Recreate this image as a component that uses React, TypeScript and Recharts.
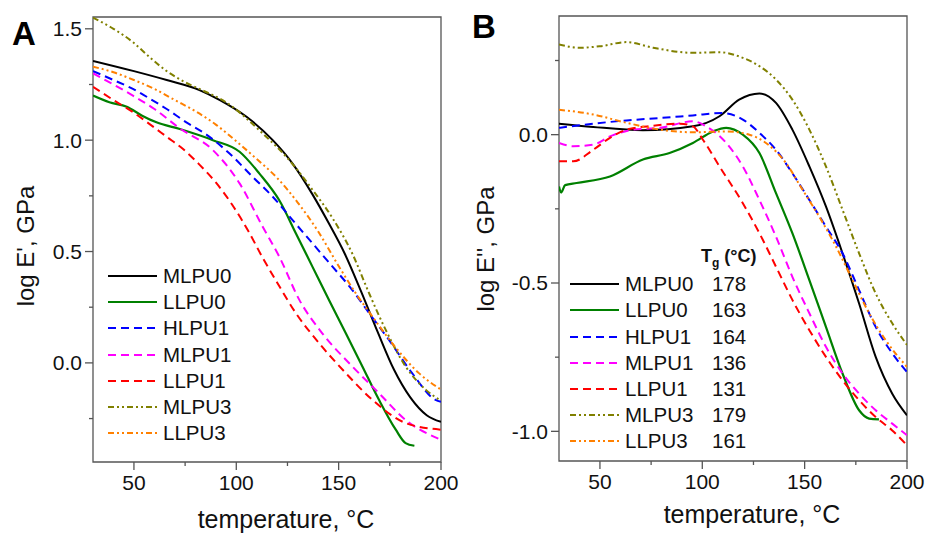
import React from "react";
import { LineChart, Line, XAxis, YAxis, Legend, ReferenceArea, Label } from "recharts";

type Pt = [number, number];

const FONT = '"Liberation Sans", Arial, sans-serif';
const FRAME = "#555";

// x axis: temperature, °C
const X_DOMAIN: [number, number] = [30, 200];
const X_TICKS = [50, 75, 100, 125, 150, 175, 200];

// panel A: log E', GPa
const A_DOMAIN: [number, number] = [-0.445, 1.553];
const A_TICKS = [-0.25, 0, 0.25, 0.5, 0.75, 1.0, 1.25, 1.5];

// panel B: log E'', GPa
const B_DOMAIN: [number, number] = [-1.1, 0.4];
const B_TICKS = [-1.0, -0.75, -0.5, -0.25, 0, 0.25];

const NAMES = ["MLPU0", "LLPU0", "HLPU1", "MLPU1", "LLPU1", "MLPU3", "LLPU3"];
const TG = [178, 163, 164, 136, 131, 179, 161];

// storage modulus (A)
const A_MLPU0: Pt[] = [[30, 1.356], [50, 1.31], [66, 1.27], [82, 1.225], [92, 1.18], [105, 1.105], [117.8, 1.0], [127.5, 0.895], [137, 0.76], [145, 0.63], [153, 0.49], [161, 0.32], [169, 0.14], [177, -0.03], [185, -0.155], [193, -0.235], [200, -0.265]];
const A_LLPU0: Pt[] = [[30, 1.2], [38, 1.17], [46.5, 1.15], [54, 1.11], [61, 1.08], [72.4, 1.05], [88.6, 1.0], [101.6, 0.948], [111.3, 0.85], [121, 0.73], [129.2, 0.58], [137.3, 0.43], [145.4, 0.28], [153.5, 0.133], [161.6, -0.016], [169.7, -0.166], [177.9, -0.3], [182.7, -0.36], [187, -0.372]];
const A_HLPU1: Pt[] = [[30, 1.31], [40, 1.27], [49.5, 1.23], [58, 1.185], [66, 1.14], [75.6, 1.08], [85.4, 1.025], [96.7, 0.94], [108, 0.835], [117.8, 0.746], [127.5, 0.641], [137.3, 0.536], [147, 0.432], [156.7, 0.327], [164.9, 0.223], [174.6, 0.103], [185.9, -0.046], [197.3, -0.166], [200, -0.175]];
const A_MLPU1: Pt[] = [[30, 1.3], [40, 1.25], [49.5, 1.2], [60, 1.14], [72.4, 1.053], [88.6, 0.955], [101.6, 0.806], [112.9, 0.611], [121, 0.477], [130.8, 0.283], [142, 0.133], [156.7, -0.016], [169.7, -0.136], [182.7, -0.256], [200, -0.345]];
const A_LLPU1: Pt[] = [[30, 1.24], [40, 1.18], [49.5, 1.126], [58, 1.07], [66, 1.015], [74, 0.96], [82, 0.89], [90, 0.81], [98, 0.71], [106, 0.59], [113, 0.47], [120, 0.36], [129.2, 0.222], [140.5, 0.088], [153.5, -0.046], [166.5, -0.166], [182.7, -0.27], [200, -0.3]];
const A_MLPU3: Pt[] = [[30, 1.55], [40, 1.5], [49.5, 1.44], [58, 1.37], [66, 1.31], [75, 1.26], [82, 1.23], [95, 1.17], [112.9, 1.03], [125.9, 0.91], [137.3, 0.776], [147, 0.65], [156.7, 0.49], [164.9, 0.312], [173, 0.148], [182.7, -0.016], [192.5, -0.12], [200, -0.17]];
const A_LLPU3: Pt[] = [[30, 1.33], [40, 1.305], [50, 1.27], [60, 1.23], [70, 1.18], [80, 1.13], [90, 1.07], [100, 0.995], [110, 0.915], [120, 0.83], [130, 0.72], [140, 0.59], [150, 0.435], [158.4, 0.312], [166.5, 0.208], [176.2, 0.088], [189.2, -0.046], [200, -0.12]];

// loss modulus (B)
const B_MLPU0: Pt[] = [[30, 0.037], [46.7, 0.026], [71, 0.015], [95.4, 0.028], [108.4, 0.062], [118, 0.118], [127.9, 0.139], [136, 0.107], [144, 0.017], [152.3, -0.107], [160.4, -0.242], [168.5, -0.4], [176.6, -0.569], [184.7, -0.749], [192.8, -0.873], [200, -0.946]];
const B_LLPU0: Pt[] = [[30, -0.175], [31, -0.195], [33, -0.17], [38.6, -0.163], [54.9, -0.141], [71, -0.084], [84, -0.062], [95.4, -0.028], [105.2, 0.011], [111.7, 0.023], [119.8, 0.0], [127.9, -0.062], [136, -0.197], [144, -0.332], [152.3, -0.49], [160.4, -0.648], [168.5, -0.805], [176.6, -0.929], [181.5, -0.957], [186.3, -0.96]];
const B_HLPU1: Pt[] = [[30, 0.023], [46.7, 0.037], [63, 0.048], [79.2, 0.056], [95.4, 0.065], [110, 0.073], [119.8, 0.051], [127.9, 0.006], [136, -0.051], [144, -0.13], [152.3, -0.22], [160.4, -0.31], [168.5, -0.4], [176.6, -0.524], [184.7, -0.648], [192.8, -0.737], [200, -0.8]];
const B_MLPU1: Pt[] = [[30, -0.028], [37, -0.039], [46.7, -0.034], [54.9, -0.006], [66.2, 0.017], [79.2, 0.023], [95.4, 0.045], [101.9, 0.028], [111.7, -0.028], [119.8, -0.107], [127.9, -0.22], [136, -0.344], [144, -0.479], [152.3, -0.602], [160.4, -0.715], [168.5, -0.805], [176.6, -0.873], [184.7, -0.929], [192.8, -0.974], [200, -1.013]];
const B_LLPU1: Pt[] = [[30, -0.09], [37, -0.09], [46.7, -0.051], [54.9, -0.011], [63, 0.017], [76, 0.03], [89, 0.037], [95.4, 0.028], [100.3, -0.017], [108.4, -0.107], [119.8, -0.231], [127.9, -0.332], [136, -0.445], [144, -0.557], [152.3, -0.659], [160.4, -0.749], [168.5, -0.828], [176.6, -0.895], [184.7, -0.952], [192.8, -0.997], [200, -1.047]];
const B_MLPU3: Pt[] = [[30, 0.304], [40.2, 0.293], [50, 0.298], [63, 0.312], [76, 0.293], [95.4, 0.276], [108.4, 0.278], [119.8, 0.259], [127.9, 0.231], [136, 0.186], [144, 0.118], [152.3, 0.017], [160.4, -0.107], [168.5, -0.253], [176.6, -0.4], [184.7, -0.535], [192.8, -0.636], [200, -0.709]];
const B_LLPU3: Pt[] = [[30, 0.084], [46.7, 0.068], [63, 0.04], [79.2, 0.017], [95.4, 0.008], [111.7, 0.011], [123, 0.0], [131.1, -0.028], [140.9, -0.096], [149, -0.186], [157.1, -0.276], [165.3, -0.377], [173.4, -0.49], [181.5, -0.602], [189.6, -0.693], [200, -0.783]];

const A_DATA = [A_MLPU0, A_LLPU0, A_HLPU1, A_MLPU1, A_LLPU1, A_MLPU3, A_LLPU3];
const B_DATA = [B_MLPU0, B_LLPU0, B_HLPU1, B_MLPU1, B_LLPU1, B_MLPU3, B_LLPU3];

const STYLES = [
  { color: "#000000", dash: undefined, width: 2 },
  { color: "#008000", dash: undefined, width: 2.2 },
  { color: "#0000ff", dash: "8 5", width: 2 },
  { color: "#ff00ff", dash: "8 5", width: 2 },
  { color: "#ff0000", dash: "8 5", width: 2 },
  { color: "#808000", dash: "6 3 2 3 2 3", width: 2 },
  { color: "#ff8000", dash: "6 3 2 3 2 3", width: 2 },
];

const toRows = (pts: Pt[]) => pts.map(([t, v]) => ({ t, v }));

const YTick = (props: any) => {
  const { x, y, payload } = props;
  const v = payload.value;
  const major = Math.abs(v * 2 - Math.round(v * 2)) < 1e-6;
  return (
    <g>
      <line x1={x - (major ? 8 : 4)} x2={x} y1={y} y2={y} stroke={FRAME} strokeWidth={1.3} />
      {major && (
        <text x={x - 11} y={y} dy="0.355em" textAnchor="end" fontFamily={FONT} fontSize={21} fill="#111">
          {v.toFixed(1)}
        </text>
      )}
    </g>
  );
};

const XTick = (props: any) => {
  const { x, y, payload } = props;
  const v = payload.value;
  const major = v % 50 === 0;
  return (
    <g>
      <line x1={x} x2={x} y1={y} y2={y + (major ? 8 : 4)} stroke={FRAME} strokeWidth={1.3} />
      {major && (
        <text x={x} y={y + 13} dy="0.71em" textAnchor="middle" fontFamily={FONT} fontSize={21} fill="#111">
          {v}
        </text>
      )}
    </g>
  );
};

const XTitle = ({ viewBox, dy }: any) => (
  <text
    x={viewBox.x + viewBox.width / 2 + 19}
    y={viewBox.y + dy}
    textAnchor="middle"
    fontFamily={FONT}
    fontSize={25}
    fill="#111"
  >
    temperature, °C
  </text>
);

const YTitle = ({ viewBox, cx, dy, text }: any) => {
  const y = viewBox.y + viewBox.height / 2 + dy;
  return (
    <text
      x={cx}
      y={y}
      transform={`rotate(-90 ${cx} ${y})`}
      textAnchor="middle"
      dominantBaseline="central"
      fontFamily={FONT}
      fontSize={24}
      fill="#111"
    >
      {text}
    </text>
  );
};

const LegendRows = ({ withTg }: { withTg: boolean }) => (
  <div style={{ fontFamily: FONT, fontSize: 20.5, color: "#111", lineHeight: "26.2px" }}>
    {withTg && (
      <div style={{ height: 26.2, paddingLeft: 131, fontWeight: "bold", fontSize: 18, lineHeight: "22px" }}>
        T<sub style={{ fontSize: 12 }}>g</sub> (°C)
      </div>
    )}
    {NAMES.map((name, i) => (
      <div key={name} style={{ display: "flex", alignItems: "center", height: 26.2, whiteSpace: "nowrap" }}>
        <svg width={49} height={10} style={{ display: "block" }}>
          <line x1={0} x2={49} y1={5} y2={5} stroke={STYLES[i].color} strokeWidth={STYLES[i].width} strokeDasharray={STYLES[i].dash} />
        </svg>
        <span style={{ marginLeft: 6, width: withTg ? 87 : undefined }}>{name}</span>
        {withTg && <span>{TG[i]}</span>}
      </div>
    ))}
  </div>
);

const Panel = ({ data, domain, ticks, title, withTg, top, xTitleDy, yTitleX, yTitleDy, legendPos }: any) => (
  <LineChart width={459} height={534} margin={{ top, right: 18, bottom: 0, left: 0 }}>
    <XAxis
      dataKey="t"
      type="number"
      domain={X_DOMAIN}
      ticks={X_TICKS}
      interval={0}
      allowDataOverflow
      axisLine={false}
      tickLine={false}
      tickSize={0}
      tickMargin={0}
      height={534 - top - 445}
      tick={(p: any) => <XTick {...p} />}
    >
      <Label content={(p: any) => <XTitle {...p} dy={xTitleDy} />} />
    </XAxis>
    <YAxis
      type="number"
      domain={domain}
      ticks={ticks}
      interval={0}
      allowDataOverflow
      axisLine={false}
      tickLine={false}
      tickSize={0}
      tickMargin={0}
      width={93}
      tick={(p: any) => <YTick {...p} />}
    >
      <Label content={(p: any) => <YTitle {...p} cx={yTitleX} dy={yTitleDy} text={title} />} />
    </YAxis>
    <ReferenceArea x1={X_DOMAIN[0]} x2={X_DOMAIN[1]} y1={domain[0]} y2={domain[1]} fill="none" stroke={FRAME} strokeWidth={1.3} ifOverflow="visible" />
    {data.map((pts: Pt[], i: number) => (
      <Line
        key={NAMES[i]}
        data={toRows(pts)}
        dataKey="v"
        name={NAMES[i]}
        type="monotone"
        stroke={STYLES[i].color}
        strokeWidth={STYLES[i].width}
        strokeDasharray={STYLES[i].dash}
        dot={false}
        activeDot={false}
        isAnimationActive={false}
      />
    ))}
    <Legend
      layout="vertical"
      align="center"
      verticalAlign="middle"
      content={() => <LegendRows withTg={withTg} />}
      wrapperStyle={{ left: legendPos[0], top: legendPos[1], width: "auto" }}
    />
  </LineChart>
);

export default function App() {
  return (
    <div style={{ position: "absolute", left: 0, top: 0, width: 925, height: 534, background: "#fff" }}>
      <div style={{ position: "absolute", left: 0, top: 0 }}>
        <Panel data={A_DATA} domain={A_DOMAIN} ticks={A_TICKS} title="log E', GPa" withTg={false} top={17} xTitleDy={66} yTitleX={25} yTitleDy={6.5} legendPos={[108, 263]} />
      </div>
      <div style={{ position: "absolute", left: 466, top: 0 }}>
        <Panel data={B_DATA} domain={B_DOMAIN} ticks={B_TICKS} title="log E'', GPa" withTg={true} top={16} xTitleDy={62} yTitleX={19} yTitleDy={10.5} legendPos={[104, 245]} />
      </div>
      <svg width={925} height={534} style={{ position: "absolute", left: 0, top: 0, pointerEvents: "none" }}>
        <text x={12} y={45} fontFamily={FONT} fontWeight="bold" fontSize={33} fill="#000">A</text>
        <text x={472} y={38} fontFamily={FONT} fontWeight="bold" fontSize={33} fill="#000">B</text>
      </svg>
    </div>
  );
}
